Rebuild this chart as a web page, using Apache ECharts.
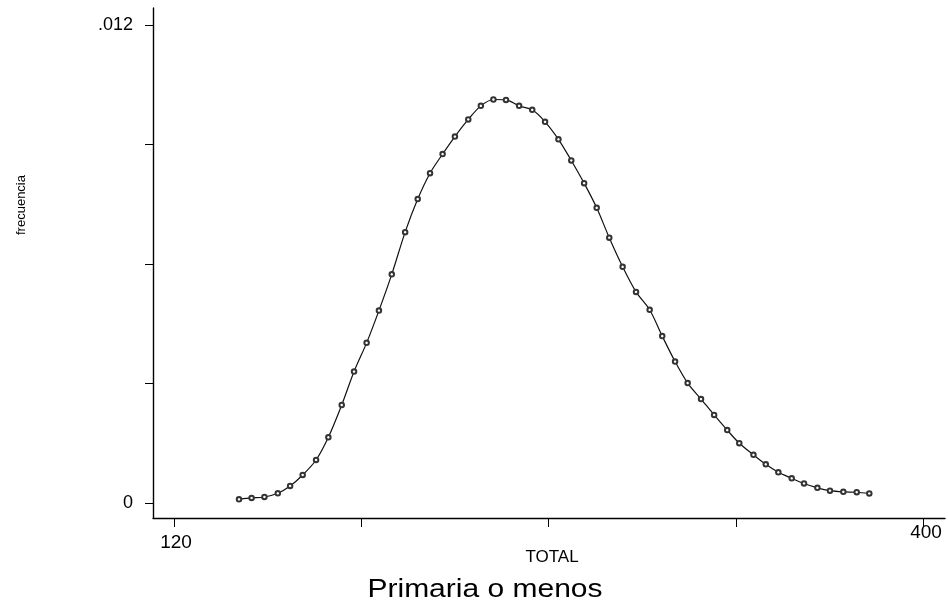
<!DOCTYPE html>
<html>
<head>
<meta charset="utf-8">
<script src="https://cdn.jsdelivr.net/npm/echarts@6/dist/echarts.min.js"></script>
<style>
  html, body { margin: 0; padding: 0; background: #fff; }
  #chart { width: 948px; height: 605px; }
</style>
</head>
<body>
<div id="chart"></div>
<script>
// Kernel density estimate of TOTAL, evaluated on a regular grid
const totalValues = [
  144.3, 149.0, 153.8, 158.8, 163.4, 168.1, 173.1, 177.7, 182.7, 187.3,
  192.0, 196.6, 201.4, 206.4, 211.1, 215.7, 220.4, 225.0, 230.0, 234.7,
  239.4, 244.1, 249.0, 253.9, 258.7, 263.7, 268.5, 273.3, 278.0, 282.7,
  287.7, 292.7, 297.8, 302.5, 307.3, 312.0, 317.0, 321.9, 326.8, 331.3,
  336.6, 341.2, 345.9, 350.9, 355.5, 360.5, 365.2, 370.2, 375.2, 379.9
];
const densityValues = [
  0.000093, 0.000126, 0.000151, 0.000244, 0.000427, 0.000703, 0.00108, 0.00165, 0.00246, 0.00330,
  0.00402, 0.00483, 0.00574, 0.00680, 0.00763, 0.00828, 0.00876, 0.00920, 0.00963, 0.00997,
  0.01013, 0.01012, 0.00997, 0.00987, 0.00957, 0.00913, 0.00860, 0.00803, 0.00741, 0.00666,
  0.00593, 0.00530, 0.00485, 0.00419, 0.00355, 0.00301, 0.00261, 0.00221, 0.00183, 0.00150,
  0.00121, 0.00097, 0.00077, 0.00062, 0.00049, 0.00038, 0.00031, 0.00028, 0.00027, 0.00024
];

const xTicks = [120, 190, 260, 330, 400];
const xTickLabels = [120, 400];
const yTicks = [0, 0.003, 0.006, 0.009, 0.012];
const yTickLabels = [0, 0.012];

const xAxisTitle = 'TOTAL';
const yAxisTitle = 'frecuencia';
const groupTitle = 'Primaria o menos';

const points = totalValues.map((x, i) => [x, densityValues[i]]);

const chart = echarts.init(document.getElementById('chart'), null, { renderer: 'canvas' });
const font = 'Liberation Sans, Arial, sans-serif';

chart.setOption({
  animation: false,
  backgroundColor: '#ffffff',
  grid: { left: 153, right: 3, top: 8, bottom: 87, containLabel: false },
  xAxis: {
    type: 'value',
    min: 112.15,
    max: 408.2,
    axisLine: { show: true, onZero: false, lineStyle: { color: '#000', width: 1.4 } },
    axisTick: { show: true, customValues: xTicks, length: 9, lineStyle: { color: '#000', width: 1 } },
    axisLabel: {
      show: true,
      customValues: xTickLabels,
      margin: 5,
      fontFamily: font,
      fontSize: 19,
      color: '#000',
      formatter: v => (v === 120 ? '{lo|' + v + '}' : '{hi|' + v + '}'),
      rich: {
        lo: { fontFamily: font, fontSize: 19, color: '#000', padding: [10, 0, 0, 4] },
        hi: { fontFamily: font, fontSize: 19, color: '#000', padding: [0, 0, 0, 6] }
      }
    },
    splitLine: { show: false }
  },
  yAxis: {
    type: 'value',
    min: -0.000377,
    max: 0.012427,
    axisLine: { show: true, onZero: false, lineStyle: { color: '#000', width: 1.4 } },
    axisTick: { show: true, customValues: yTicks, length: 8, lineStyle: { color: '#000', width: 1 } },
    axisLabel: {
      show: true,
      customValues: yTickLabels,
      margin: 20,
      fontFamily: font,
      fontSize: 18,
      color: '#000',
      formatter: v => (v === 0 ? '0' : String(v).replace(/^0/, ''))
    },
    splitLine: { show: false }
  },
  graphic: [
    {
      type: 'text',
      x: 21,
      y: 205,
      rotation: Math.PI / 2,
      style: { text: yAxisTitle, font: '13px ' + font, fill: '#000', align: 'center', verticalAlign: 'middle' }
    },
    {
      type: 'text',
      x: 552,
      y: 557,
      style: { text: xAxisTitle, font: '17px ' + font, fill: '#000', align: 'center', verticalAlign: 'middle' }
    },
    {
      type: 'text',
      x: 485,
      y: 590,
      scaleX: 1.2,
      style: { text: groupTitle, font: '25px ' + font, fill: '#000', align: 'center', verticalAlign: 'middle' }
    }
  ],
  series: [
    {
      type: 'line',
      data: points,
      smooth: 0.3,
      symbol: 'emptyCircle',
      symbolSize: 4.5,
      showSymbol: true,
      lineStyle: { color: '#111', width: 1.2 },
      itemStyle: { color: '#333', borderColor: '#333', borderWidth: 0.9 }
    }
  ]
});
</script>
</body>
</html>
